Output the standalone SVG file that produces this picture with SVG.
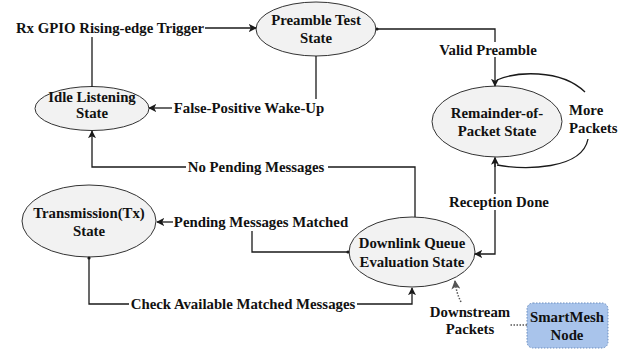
<svg xmlns="http://www.w3.org/2000/svg" width="629" height="353" viewBox="0 0 629 353">
  <style>
    .state { fill: #f2f2f2; stroke: #333333; stroke-width: 1; }
    .lbl { font-family: "Liberation Serif", "Times New Roman", serif; font-weight: bold; font-size: 14.8px; fill: #111111; text-anchor: middle; }
    .edge { fill: none; stroke: #1a1a1a; stroke-width: 1.3; }
    .dot { fill: #1a1a1a; }
    .dotted { fill: none; stroke: #555555; stroke-width: 1.5; stroke-dasharray: 1.5 1.5; }
  </style>
  <defs>
    <marker id="arrow" viewBox="0 0 10 10" refX="9" refY="5" markerWidth="8" markerHeight="8" markerUnits="userSpaceOnUse" orient="auto">
      <path d="M0,0 L10,5 L0,10 L2.5,5 z" fill="#1a1a1a"/>
    </marker>
    <marker id="arrowGray" viewBox="0 0 10 10" refX="9" refY="5" markerWidth="9" markerHeight="9" markerUnits="userSpaceOnUse" orient="auto">
      <path d="M0,0 L10,5 L0,10 L2.5,5 z" fill="#555555"/>
    </marker>
  </defs>

  <!-- states -->
  <g id="preamble-test">
    <ellipse class="state" cx="316" cy="29" rx="60" ry="27"/>
    <text class="lbl" x="316" y="25">Preamble Test</text>
    <text class="lbl" x="316" y="43">State</text>
  </g>

  <g id="idle-listening">
    <ellipse class="state" cx="92" cy="108.5" rx="57" ry="22"/>
    <text class="lbl" x="92" y="102">Idle Listening</text>
    <text class="lbl" x="92" y="118">State</text>
  </g>

  <g id="remainder-of-packet">
    <ellipse class="state" cx="497" cy="121.5" rx="65" ry="35.5"/>
    <text class="lbl" x="497" y="118">Remainder-of-</text>
    <text class="lbl" x="497" y="136">Packet State</text>
  </g>

  <g id="transmission">
    <ellipse class="state" cx="89" cy="221" rx="67" ry="36"/>
    <text class="lbl" x="89" y="218">Transmission(Tx)</text>
    <text class="lbl" x="89" y="236">State</text>
  </g>

  <g id="downlink-queue">
    <ellipse class="state" cx="412" cy="252" rx="63" ry="35"/>
    <text class="lbl" x="412" y="248">Downlink Queue</text>
    <text class="lbl" x="412" y="267">Evaluation State</text>
  </g>

  <g id="smartmesh-node">
    <rect x="527" y="303" width="81" height="45" rx="6" fill="#a9c4eb" stroke="#6c8ebf" stroke-width="1" stroke-dasharray="1.5 1.5"/>
    <text class="lbl" x="567" y="322">SmartMesh</text>
    <text class="lbl" x="567" y="340">Node</text>
  </g>

  <!-- connectors -->
  <g id="connectors">
    <!-- idle -> preamble via rising-edge trigger -->
    <path class="edge" d="M92,87 V37"/>
    <path class="edge" d="M205,28 H256" marker-end="url(#arrow)"/>
    <text class="lbl" x="110" y="33">Rx GPIO Rising-edge Trigger</text>

    <!-- preamble -> idle on false-positive wake-up -->
    <path class="edge" d="M316,56 V99"/>
    <path class="edge" d="M172,108 H149" marker-end="url(#arrow)"/>
    <text class="lbl" x="249" y="113">False-Positive Wake-Up</text>

    <!-- preamble -> remainder on valid preamble -->
    <path class="edge" d="M376,29 H495 V42"/>
    <path class="edge" d="M495,57 V86" marker-end="url(#arrow)"/>
    <circle class="dot" cx="377" cy="29" r="1.6"/>
    <text class="lbl" x="488" y="55">Valid Preamble</text>

    <!-- remainder self-loop -->
    <path class="edge" d="M497,80 C515,72 560,68 585,92"/>
    <path class="edge" d="M588,139 C582,170 525,170 497,165"/>
    <path class="edge" d="M495,167 V157.5" marker-end="url(#arrow)"/>
    <text class="lbl" x="569" y="115" style="text-anchor:start">More</text>
    <text class="lbl" x="569" y="133" style="text-anchor:start">Packets</text>

    <!-- remainder -> downlink on reception done -->
    <path class="edge" d="M495,158 V194"/>
    <path class="edge" d="M495,210 V254 H475" marker-end="url(#arrow)"/>
    <text class="lbl" x="499" y="207">Reception Done</text>

    <!-- downlink -> idle when nothing pending -->
    <path class="edge" d="M415,217 V167 H328"/>
    <path class="edge" d="M186,167 H92 V131" marker-end="url(#arrow)"/>
    <text class="lbl" x="256" y="172">No Pending Messages</text>

    <!-- downlink -> transmission when messages match -->
    <path class="edge" d="M349,252 H252 V231"/>
    <path class="edge" d="M173,222 H157" marker-end="url(#arrow)"/>
    <circle class="dot" cx="348" cy="252" r="1.6"/>
    <text class="lbl" x="261" y="227">Pending Messages Matched</text>

    <!-- transmission -> downlink to check remaining messages -->
    <path class="edge" d="M89,257 V304 H129"/>
    <path class="edge" d="M357,304 H412 V288" marker-end="url(#arrow)"/>
    <circle class="dot" cx="89" cy="258" r="1.6"/>
    <text class="lbl" x="243" y="309">Check Available Matched Messages</text>

    <!-- smartmesh downstream traffic -->
    <path class="dotted" d="M527,325 H510"/>
    <path class="dotted" d="M461,302 C458,296 456,290 455,281" marker-end="url(#arrowGray)"/>
    <text class="lbl" x="470" y="317">Downstream</text>
    <text class="lbl" x="470" y="334">Packets</text>
  </g>
</svg>
